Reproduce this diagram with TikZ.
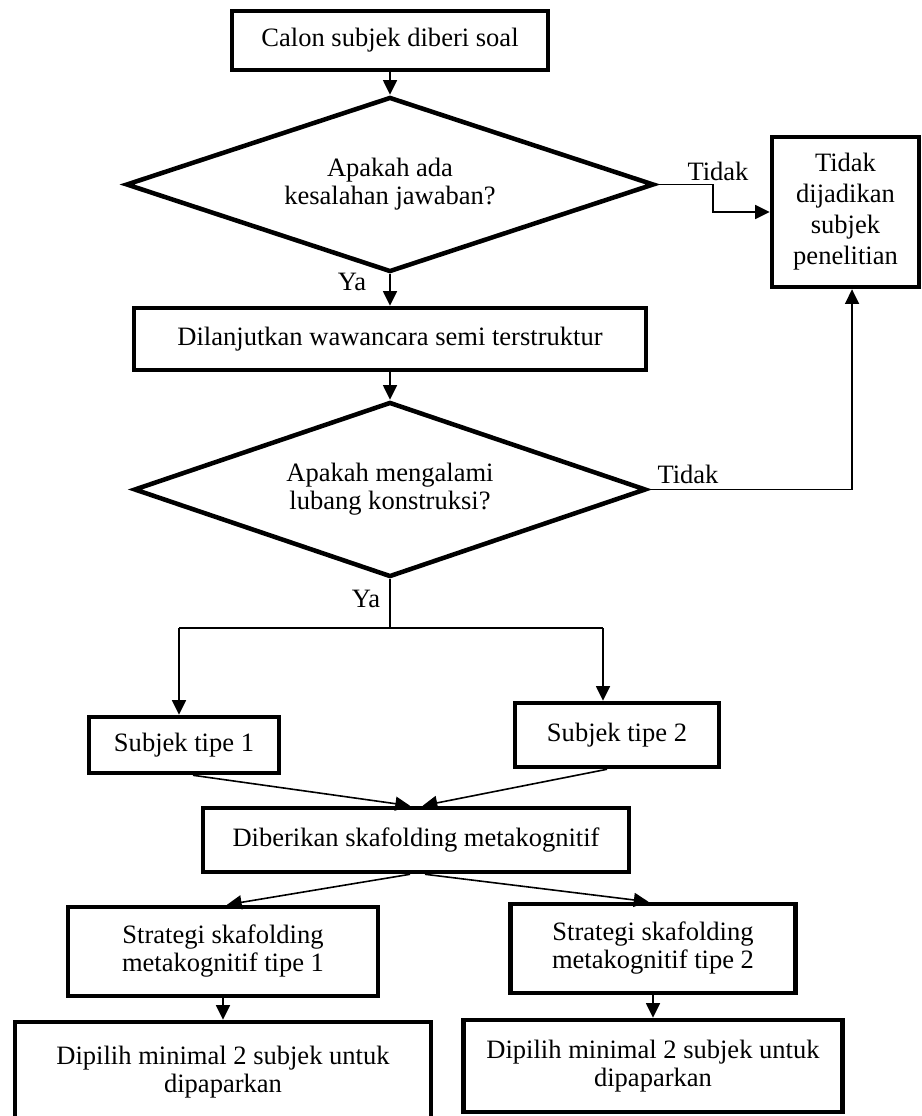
\documentclass[tikz,border=0pt]{standalone}
\usepackage{fontspec}
\setmainfont{Liberation Serif}
\usetikzlibrary{shapes.geometric,arrows.meta}
\begin{document}
\begin{tikzpicture}[x=0.75pt,y=-0.75pt,
  every node/.style={font=\fontsize{19.9pt}{21pt}\selectfont},
  box/.style={draw,line width=3.4pt,fill=white,align=center,inner sep=0pt,line join=miter},
  decision/.style={draw,diamond,aspect=3,line width=3.4pt,fill=white,align=center,inner sep=0pt},
  link/.style={line width=1.2pt},
  arrow/.style={link,-{Triangle[length=11pt,width=10.5pt]}},
  tag/.style={anchor=base,inner sep=0pt}
]
\fill[white] (0,0) rectangle (921,1116);
\useasboundingbox (0,0) rectangle (921,1116);

% main column
\node[box,minimum width=237pt,minimum height=44.25pt] (calon) at (390,40.5) {Calon subjek diberi soal};
\node[decision,minimum width=396pt,minimum height=131.25pt] (d1) at (390,184.5) {Apakah ada\\kesalahan jawaban?};
\node[box,minimum width=384pt,minimum height=46.5pt] (wwc) at (390,339) {Dilanjutkan wawancara semi terstruktur};
\node[decision,minimum width=384pt,minimum height=131.25pt] (d2) at (390,489.5) {Apakah mengalami\\lubang konstruksi?};

% rejection box
\node[box,minimum width=110.25pt,minimum height=112.5pt,font=\fontsize{19.9pt}{23.25pt}\selectfont] (tolak) at (845.5,212) {Tidak\\dijadikan\\subjek\\penelitian};

% subject types
\node[box,minimum width=142.5pt,minimum height=42pt] (s1) at (184,745) {Subjek tipe 1};
\node[box,minimum width=153pt,minimum height=48pt] (s2) at (617,735) {Subjek tipe 2};
\node[box,minimum width=319.5pt,minimum height=48pt] (dib) at (416,840) {Diberikan skafolding metakognitif};

% strategies
\node[box,minimum width=232.5pt,minimum height=66.75pt] (st1) at (223,951.5) {Strategi skafolding\\metakognitif tipe 1};
\node[box,minimum width=213.75pt,minimum height=66.75pt] (st2) at (653,948.5) {Strategi skafolding\\metakognitif tipe 2};
\node[box,minimum width=312pt,minimum height=75pt] (p1) at (223,1072) {Dipilih minimal 2 subjek untuk\\dipaparkan};
\node[box,minimum width=284.25pt,minimum height=69pt] (p2) at (653,1066) {Dipilih minimal 2 subjek untuk\\dipaparkan};

% labels
\node[tag] (ya1) at (352,290) {Ya};
\node[tag] (ya2) at (366,607) {Ya};
\node[tag] (tdk1) at (718,181) {Tidak};
\node[tag] (tdk2) at (688,483) {Tidak};

% connectors
\draw[arrow] (calon) -- (d1);
\draw[arrow] (d1) -- (wwc);
\draw[arrow] (wwc) -- (d2);
\draw[arrow] (d1.east) -- ++(57,0) |- (tolak.west);
\draw[arrow] (d2.east) -| ([xshift=4.9pt]tolak.south);

\coordinate (j) at (390,628);
\coordinate (jl) at (179,628);
\coordinate (jr) at (603,628);
\draw[link] (d2.south) -- (j);
\draw[link] (jl) -- (jr);
\draw[arrow] (jl) -- (jl |- s1.north);
\draw[arrow] (jr) -- (jr |- s2.north);

\draw[arrow] ([xshift=6.75pt]s1.south) -- ([xshift=-4.5pt]dib.north);
\draw[arrow] ([xshift=-7.5pt]s2.south) -- ([xshift=5pt]dib.north);
\draw[arrow] ([xshift=-4.5pt]dib.south) -- ([xshift=3pt]st1.north);
\draw[arrow] ([xshift=6.75pt]dib.south) -- ([xshift=-3.4pt]st2.north);
\draw[arrow] (st1) -- (p1);
\draw[arrow] (st2) -- (p2);
\end{tikzpicture}
\end{document}
